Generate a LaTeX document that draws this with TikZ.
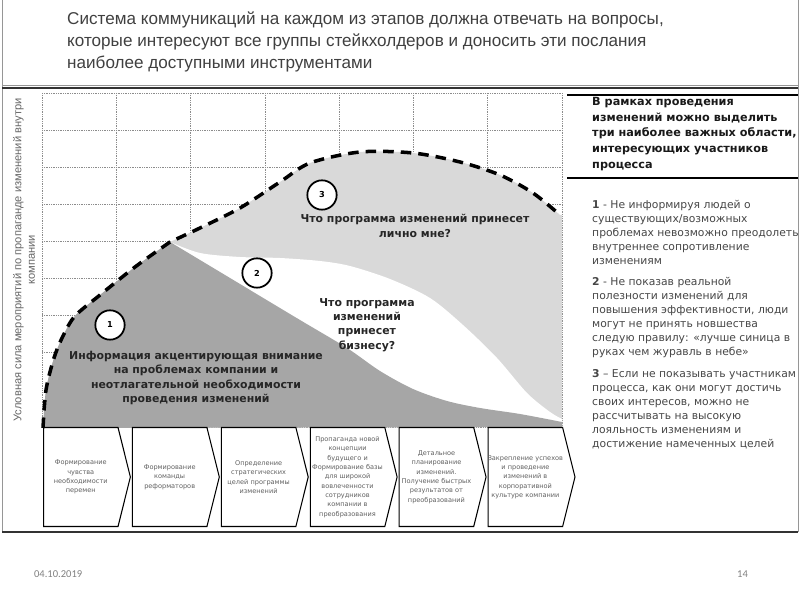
\documentclass[tikz,border=0pt]{standalone}
\usepackage{fontspec}
\setmainfont{DejaVu Sans}
\newfontfamily\titlefont{Liberation Sans}
\newfontfamily\footfont{Carlito}
\usepackage{tikz}
\usetikzlibrary{positioning,shapes.symbols}
\definecolor{areaone}{RGB}{166,166,166}
\definecolor{areathree}{RGB}{217,217,217}
\definecolor{gridc}{RGB}{140,140,140}
\definecolor{framec}{RGB}{150,150,150}
\definecolor{titlec}{RGB}{64,64,64}
\definecolor{notec}{RGB}{70,70,70}
\definecolor{stagec}{RGB}{95,95,95}
\tikzset{
  gridline/.style = {densely dotted, draw=gridc, line width=0.5pt},
  rim/.style      = {draw=black, line width=3pt, dash pattern=on 9pt off 6pt},
  marker/.style   = {circle, draw=black, line width=1.5pt, fill=white, minimum size=0.88cm,
                     inner sep=0pt, font=\fontsize{7}{8}\selectfont\bfseries},
  question/.style = {align=center, text=black!85, font=\fontsize{9.3}{12.3}\selectfont\bfseries},
  stage/.style    = {signal, signal to=east, signal from=nowhere, signal pointer angle=152,
                     draw=black, line width=0.9pt, minimum width=2.6cm, minimum height=2.97cm,
                     text width=2.2cm, inner sep=0.5pt, align=center, text=stagec,
                     font=\fontsize{5.6}{8}\selectfont},
  heading/.style  = {anchor=north west, align=left, inner sep=0pt, text=black!90,
                     font=\fontsize{9.6}{13.4}\selectfont\bfseries},
  note/.style     = {anchor=north west, align=left, inner sep=0pt, text=notec,
                     font=\fontsize{9.2}{12}\selectfont},
}

\begin{document}
\begin{tikzpicture}[x=0.03cm, y=-0.03cm]
\useasboundingbox (0,0) rectangle (800,600);

% slide frame
\draw[framec] (2,0) -- (2,532);
\draw[framec] (798,0) -- (798,532);
\draw[framec] (2,85.5) -- (798,85.5);
\draw[black!80, line width=1.1pt] (2,88) -- (798,88);
\draw[black!80, line width=1.1pt] (2,532) -- (798,532);

\node[anchor=north west, align=left, inner sep=0pt, text=titlec,
      font=\titlefont\fontsize{14.6}{18.6}\selectfont] (title) at (67,12)
  {Система коммуникаций на каждом из этапов должна отвечать на вопросы,\\
   которые интересуют все группы стейкхолдеров и доносить эти послания\\
   наиболее доступными инструментами};

% grid
\foreach \gx in {0,...,7}
  \draw[gridline] ({42+\gx*74.29},93) -- ({42+\gx*74.29},427);
\foreach \gy in {0,...,9}
  \draw[gridline] (42,{93+\gy*37.1}) -- (562,{93+\gy*37.1});

% areas under the curve
\fill[areathree] plot[smooth] coordinates {(43,428) (46,390) (54,358) (63,336) (75,316) (100,295) (135,267) (170,242)}
  -- plot[smooth] coordinates {(170,242) (200,228) (240,208) (280,182) (310,163) (360,152) (413,153) (460,162) (500,175) (533,193) (560,215)}
  -- (562,215) -- (562,427) -- (43,428) -- cycle;
\fill[white] plot[smooth] coordinates {(170,242) (200,253) (240,257) (280,258) (320,261) (350,266) (390,279) (430,298) (463,325) (497,358) (527,393) (550,412) (562,419)}
  -- (562,427) -- (170,427) -- cycle;
\fill[areaone] plot[smooth] coordinates {(43,428) (46,390) (54,358) (63,336) (75,316) (100,295) (135,267) (170,242)}
  -- plot[smooth] coordinates {(170,242) (235,281) (300,320) (347,348) (380,371) (413,389) (447,401) (480,408) (520,414) (562,422)}
  -- (562,427) -- (43,428) -- cycle;
\draw[rim] plot[smooth] coordinates {(43,428) (46,390) (54,358) (63,336) (75,316) (100,295) (135,267) (170,242)}
  -- plot[smooth] coordinates {(170,242) (200,228) (240,208) (280,182) (310,163) (360,152) (413,153) (460,162) (500,175) (533,193) (560,215)};

\node[anchor=center, rotate=90, align=center, text=black!60,
      font=\titlefont\fontsize{9.5}{11.5}\selectfont] (axis) at (24,260)
  {Условная сила мероприятий по пропаганде изменений внутри\\компании};

\node[marker] (m1) at (110,325) {1};
\node[marker] (m2) at (257,273) {2};
\node[marker] (m3) at (322,195) {3};

\node[question] (q1) at (196,378)
  {Информация акцентирующая внимание\\на проблемах компании и\\неотлагательной необходимости\\проведения изменений};
\node[question] (q2) at (367,325) {Что программа\\изменений\\принесет\\бизнесу?};
\node[question] (q3) at (415,226) {Что программа изменений принесет\\лично мне?};

% stages
\node[stage, anchor=west] (s1) at (43,477) {Формирование\\чувства\\необходимости\\перемен};
\node[stage, right=0.03cm of s1] (s2) {Формирование\\команды\\реформаторов};
\node[stage, right=0.03cm of s2] (s3) {Определение\\стратегических\\целей программы\\изменений};
\node[stage, right=0.03cm of s3] (s4) {Пропаганда новой\\концепции\\будущего и\\Формирование базы\\для широкой\\вовлеченности\\сотрудников\\компании в\\преобразования};
\node[stage, right=0.03cm of s4] (s5) {Детальное\\планирование\\изменений.\\Получение быстрых\\результатов от\\преобразований};
\node[stage, right=0.03cm of s5] (s6) {\makebox[2.2cm][c]{Закрепление успехов}\\и проведение\\изменений в\\корпоративной\\культуре компании};

% right panel
\draw[black, line width=2.2pt] (567,95) -- (798,95);
\draw[black, line width=2pt] (567,178) -- (798,178);
\node[heading] (hdr) at (592,97)
  {В рамках проведения\\изменений можно выделить\\три наиболее важных области,\\интересующих участников\\процесса};
\node[note] (pt1) at (592,200)
  {{\bfseries 1} - Не информируя людей о\\существующих/возможных\\проблемах невозможно преодолеть\\внутреннее сопротивление\\изменениям};
\node[note] (pt2) at (592,277)
  {{\bfseries 2} - Не показав реальной\\полезности изменений для\\повышения эффективности, люди\\могут не принять новшества\\следую правилу: «лучше синица в\\руках чем журавль в небе»};
\node[note] (pt3) at (592,369)
  {{\bfseries 3} – Если не показывать участникам\\процесса, как они могут достичь\\своих интересов, можно не\\рассчитывать на высокую\\лояльность изменениям и\\достижение намеченных целей};

% footer
\node[anchor=west, text=black!50, font=\footfont\fontsize{9}{10}\selectfont] (date) at (30,574) {04.10.2019};
\node[anchor=east, text=black!50, font=\footfont\fontsize{9}{10}\selectfont] (page) at (752,574) {14};

\end{tikzpicture}
\end{document}
